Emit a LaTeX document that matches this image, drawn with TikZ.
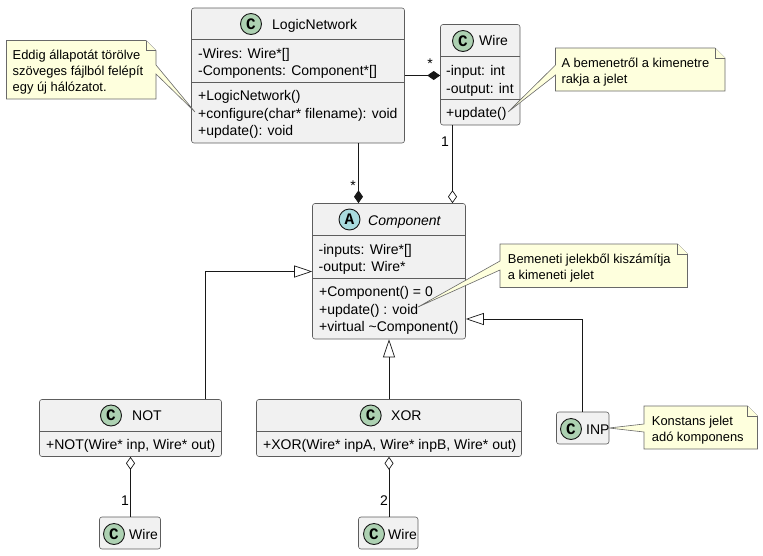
\documentclass[tikz,border=0pt]{standalone}
\usepackage{fontspec}
\setmainfont{Liberation Sans}
\setmonofont{Liberation Mono}
\usetikzlibrary{arrows.meta}
\definecolor{umlline}{HTML}{181818}
\definecolor{classfill}{HTML}{F1F1F1}
\definecolor{notefill}{HTML}{FEFFDD}
\definecolor{spotc}{HTML}{ADD1B2}
\definecolor{spota}{HTML}{A9DCDF}
\tikzset{
  classbox/.style={draw=umlline!70,line width=0.6pt,fill=classfill,rounded corners=2.5pt,inner sep=0pt},
  sepline/.style={draw=umlline!70,line width=0.6pt},
  spot/.style={circle,draw=umlline,line width=0.9pt,minimum size=21pt,inner sep=0pt,font=\fontsize{16}{16}\ttfamily\bfseries,text=black},
  member/.style={anchor=base west,inner sep=0pt,font=\fontsize{14}{16}\selectfont,text=black},
  notetext/.style={anchor=north west,inner sep=0pt,align=left,font=\fontsize{12.9}{16}\selectfont,text=black},
  noteline/.style={draw=umlline!65,line width=0.6pt,fill=notefill,line join=miter},
  link/.style={draw=umlline,line width=1pt},
  filleddiamond/.style={-{Diamond[length=13pt,width=9pt,fill=umlline]}},
  opendiamond/.style={-{Diamond[open,length=13pt,width=9pt,line width=0.7pt,fill=white]}},
  opentriangle/.style={-{Triangle[open,length=18pt,width=12pt,line width=0.7pt,fill=white]}},
  mult/.style={inner sep=0pt,font=\fontsize{14}{14}\selectfont,text=black}
}
\begin{document}
\begin{tikzpicture}[x=1pt,y=-1pt]
\useasboundingbox (0,0) rectangle (763,555);
% class boxes
\node[classbox,minimum width=213pt,minimum height=135pt] (network) at (298,75.5) {};
\node[classbox,minimum width=79.5pt,minimum height=100.5pt] (wire) at (480.25,74.75) {};
\node[classbox,minimum width=153pt,minimum height=135.5pt] (component) at (389,271.25) {};
\node[classbox,minimum width=182pt,minimum height=57pt] (not) at (130.5,428) {};
\node[classbox,minimum width=265pt,minimum height=57pt] (xor) at (389,428) {};
\node[classbox,minimum width=52.5pt,minimum height=32pt] (inp) at (582.75,428) {};
\node[classbox,minimum width=61pt,minimum height=32pt] (notwire) at (130,533) {};
\node[classbox,minimum width=59.5pt,minimum height=32pt] (xorwire) at (388.25,533) {};
% compartment lines
\draw[sepline] (network.west |- 0,39.5) -- (network.east |- 0,39.5);
\draw[sepline] (network.west |- 0,82) -- (network.east |- 0,82);
\draw[sepline] (wire.west |- 0,56) -- (wire.east |- 0,56);
\draw[sepline] (wire.west |- 0,99) -- (wire.east |- 0,99);
\draw[sepline] (component.west |- 0,235) -- (component.east |- 0,235);
\draw[sepline] (component.west |- 0,278) -- (component.east |- 0,278);
\draw[sepline] (not.west |- 0,431.5) -- (not.east |- 0,431.5);
\draw[sepline] (xor.west |- 0,431.5) -- (xor.east |- 0,431.5);
% spots and titles
\node[spot,fill=spotc] (networkspot) at (251,24) {C};
\node[member] (networktitle) at (272,29) {LogicNetwork};
\node[spot,fill=spotc] (wirespot) at (463,41) {C};
\node[member] (wiretitle) at (479,45.5) {Wire};
\node[spot,fill=spota] (componentspot) at (349.5,219.5) {A};
\node[member] (componenttitle) at (368,225) {\itshape Component};
\node[spot,fill=spotc] (notspot) at (111,415.5) {C};
\node[member] (nottitle) at (132,420.7) {NOT};
\node[spot,fill=spotc] (xorspot) at (370.7,415.5) {C};
\node[member] (xortitle) at (391,420.7) {XOR};
\node[spot,fill=spotc] (inpspot) at (571,429) {C};
\node[member] (inptitle) at (586,434) {INP};
\node[spot,fill=spotc] (notwirespot) at (114,534) {C};
\node[member] (notwiretitle) at (129,539) {Wire};
\node[spot,fill=spotc] (xorwirespot) at (374,534) {C};
\node[member] (xorwiretitle) at (388,539) {Wire};
% members
\node[member] (netwires) at (198,58) {-Wires: Wire*[]};
\node[member] (netcomps) at (198,75.5) {-Components: Component*[]};
\node[member] (netctor) at (198,100.7) {+LogicNetwork()};
\node[member] (netconf) at (198,118) {+configure(char* filename): void};
\node[member] (netupdate) at (198,135.3) {+update(): void};
\node[member] (wireinput) at (446,75) {-input: int};
\node[member] (wireoutput) at (446,93) {-output: int};
\node[member] (wireupdate) at (446,117.7) {+update()};
\node[member] (compinputs) at (318.5,254) {-inputs: Wire*[]};
\node[member] (compoutput) at (318.5,271) {-output: Wire*};
\node[member] (compctor) at (319,296.7) {+Component() = 0};
\node[member] (compupdate) at (319,314) {+update() : void};
\node[member] (compdtor) at (319,331.7) {+virtual \textasciitilde Component()};
\node[member] (notctor) at (46,449.3) {+NOT(Wire* inp, Wire* out)};
\node[member] (xorctor) at (263,449.3) {+XOR(Wire* inpA, Wire* inpB, Wire* out)};
% relations
\draw[link,filleddiamond] (network.east |- 0,75.5) -- (wire.west |- 0,75.5);
\draw[link,filleddiamond] ([xshift=60.5pt]network.south) -- ([xshift=-30.5pt]component.north);
\draw[link,opendiamond] ([xshift=-27.75pt]wire.south) -- ([xshift=63.5pt]component.north);
\draw[link,opentriangle] (not.north -| 205.5,0) -- (205.5,271.5) -- (component.west |- 0,271.5);
\draw[link,opentriangle] (xor.north) -- (component.south);
\draw[link,opentriangle] (inp.north) |- (component.east |- 0,319);
\draw[link,opendiamond] (notwire.north -| not.south) -- (not.south);
\draw[link,opendiamond] (xorwire.north -| xor.south) -- (xor.south);
% multiplicities
\node[mult] (starwire) at (430,64) {*};
\node[mult] (starcomp) at (353,186) {*};
\node[mult] (onewire) at (445,142) {1};
\node[mult] (onenot) at (125,501) {1};
\node[mult] (twoxor) at (384,501) {2};
% notes
\draw[noteline] (6.5,40.5) -- (146,40.5) -- (156,50.5) -- (156,65) -- (195,112) -- (156,74) -- (156,99) -- (6.5,99) -- cycle;
\draw[noteline] (146,40.5) -- (146,50.5) -- (156,50.5);
\node[notetext] (noteload) at (12.5,49.6) {Eddig állapotát törölve\\szöveges fájlból felépít\\egy új hálózatot.};
\draw[noteline] (555.5,48) -- (715,48) -- (725,58) -- (725,91) -- (555.5,91) -- (555.5,75) -- (508,112) -- (555.5,65) -- cycle;
\draw[noteline] (715,48) -- (715,58) -- (725,58);
\node[notetext] (notewire) at (561.3,57.3) {A bemenetről a kimenetre\\rakja a jelet};
\draw[noteline] (500,244) -- (677.5,244) -- (687.5,254) -- (687.5,287.5) -- (500,287.5) -- (500,270) -- (418,307) -- (500,261) -- cycle;
\draw[noteline] (677.5,244) -- (677.5,254) -- (687.5,254);
\node[notetext] (notecomp) at (507.7,253.3) {Bemeneti jelekből kiszámítja\\a kimeneti jelet};
\draw[noteline] (644,406) -- (747.5,406) -- (757.5,416) -- (757.5,449) -- (644,449) -- (644,432) -- (609,428) -- (644,424) -- cycle;
\draw[noteline] (747.5,406) -- (747.5,416) -- (757.5,416);
\node[notetext] (noteinp) at (651.7,415.6) {Konstans jelet\\adó komponens};
\end{tikzpicture}
\end{document}
